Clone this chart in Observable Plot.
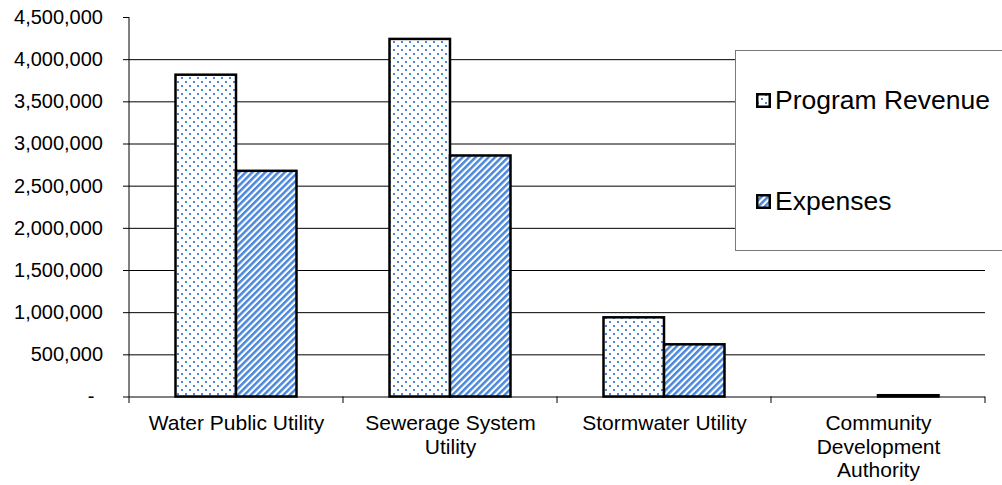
<!DOCTYPE html>
<html>
<head>
<meta charset="utf-8">
<script src="https://cdn.jsdelivr.net/npm/d3@7"></script>
<script src="https://cdn.jsdelivr.net/npm/@observablehq/plot@0.6"></script>
<style>
  html, body { margin: 0; padding: 0; background: #fff; overflow: hidden; }
  #chart { position: relative; width: 1002px; height: 485px; font-family: "Liberation Sans", Arial, sans-serif; }
  #legend {
    position: absolute; left: 735px; top: 50px; width: 290px; height: 201px;
    border: 1px solid #7a7a7a; background: #fff; box-sizing: border-box;
  }
  .item { position: absolute; left: 20px; height: 30px; display: flex; align-items: center; font-size: 26.5px; white-space: nowrap; color: #000; }
  .item svg { flex: none; margin-right: 4px; }
</style>
</head>
<body>
<div id="chart"><div id="legend"></div></div>
<script>
// Business-type activities: program revenue vs. expenses
const categories = [
  "Water Public Utility",
  "Sewerage System Utility",
  "Stormwater Utility",
  "Community Development Authority"
];
const tickLabels = [
  "Water Public Utility",
  "Sewerage System\nUtility",
  "Stormwater Utility",
  "Community\nDevelopment\nAuthority"
];
const series = ["Program Revenue", "Expenses"];
const programRevenue = [3816000, 4240000, 939000, 0];
const expenses = [2676000, 2858000, 619000, 15000];
const yTicks = [0, 500000, 1000000, 1500000, 2000000, 2500000, 3000000, 3500000, 4000000, 4500000];
const gridTicks = [500000, 1000000, 1500000, 2000000, 2500000, 3000000, 3500000, 4000000];

const blue = "#4a86da";
const patternIds = {"Program Revenue": "dots", "Expenses": "stripes"};

const rows = (values) => categories
  .map((category, i) => ({category, value: values[i]}))
  .filter(d => d.value > 0);

// axis line on the left and category boundary ticks under the baseline
function axisFrame(index, scales) {
  const x = scales.x, y = scales.y;
  const step = x(categories[1]) - x(categories[0]);
  const bounds = categories.map(c => x(c)).concat([x(categories[categories.length - 1]) + step]);
  const g = d3.create("svg:g").attr("stroke", "#000").attr("fill", "none");
  g.append("line")
    .attr("x1", bounds[0]).attr("x2", bounds[0])
    .attr("y1", y(yTicks[yTicks.length - 1])).attr("y2", y(0));
  g.selectAll(null).data(bounds).join("line")
    .attr("x1", d => d).attr("x2", d => d)
    .attr("y1", y(0)).attr("y2", y(0) + 6.5);
  return g.node();
}

const svg = Plot.plot({
  width: 1002,
  height: 485,
  marginLeft: 129,
  marginRight: 17,
  marginTop: 17,
  marginBottom: 88.5,
  style: {fontFamily: "'Liberation Sans', Arial, sans-serif", fontSize: "20px", color: "#000", background: "#fff", overflow: "visible"},
  x: {domain: categories, padding: 0, axis: null, label: null},
  y: {domain: [0, 4500000], axis: null, label: null},
  marks: [
    Plot.gridY(gridTicks, {stroke: "#000", strokeOpacity: 1}),
    Plot.ruleY([0], {stroke: "#000"}),
    Plot.barY(rows(programRevenue), {
      x: "category", y: "value", fill: "url(#dots)", stroke: "#000", strokeWidth: 2.5,
      insetLeft: 46.5, insetRight: 107
    }),
    Plot.barY(rows(expenses), {
      x: "category", y: "value", fill: "url(#stripes)", stroke: "#000", strokeWidth: 2.5,
      insetLeft: 107, insetRight: 46.5
    }),
    Plot.axisY(yTicks, {
      tickSize: 6, tickPadding: 20.5, fontSize: 20, label: null,
      tickFormat: d => d === 0 ? "" : d3.format(",")(d)
    }),
    Plot.text([0], {y: d => d, frameAnchor: "left", textAnchor: "end", dx: -35, text: () => "-", fontSize: 20}),
    Plot.axisX({
      tickSize: 0, tickPadding: 17, fontSize: 21, lineHeight: 1.1, label: null,
      tickFormat: d => tickLabels[categories.indexOf(d)]
    }),
    axisFrame
  ]
});

// fill patterns for the two series
const defs = d3.select(svg).insert("defs", ":first-child");
const dots = defs.append("pattern").attr("id", "dots")
  .attr("patternUnits", "userSpaceOnUse").attr("width", 8).attr("height", 8);
dots.append("rect").attr("width", 8).attr("height", 8).attr("fill", "#fff");
dots.append("rect").attr("x", 1).attr("y", 1).attr("width", 2).attr("height", 2).attr("fill", blue);
dots.append("rect").attr("x", 5).attr("y", 5).attr("width", 2).attr("height", 2).attr("fill", blue);
const stripes = defs.append("pattern").attr("id", "stripes")
  .attr("patternUnits", "userSpaceOnUse").attr("width", 4.6).attr("height", 4.6)
  .attr("patternTransform", "rotate(45)");
stripes.append("rect").attr("width", 4.6).attr("height", 4.6).attr("fill", "#fff");
stripes.append("rect").attr("width", 2.5).attr("height", 4.6).attr("fill", blue);

document.getElementById("chart").prepend(svg);
svg.style.position = "absolute";
svg.style.left = "0";
svg.style.top = "0";

// legend
const legend = d3.select("#legend");
series.forEach((name, i) => {
  const item = legend.append("div").attr("class", "item").style("top", (i === 0 ? 34.5 : 135.5) + "px");
  const sw = item.append("svg").attr("width", 15).attr("height", 15);
  sw.append("rect").attr("x", 1.25).attr("y", 1.25).attr("width", 12.5).attr("height", 12.5)
    .attr("fill", `url(#${patternIds[name]})`).attr("stroke", "#000").attr("stroke-width", 2.5);
  item.append("span").text(name);
});
</script>
</body>
</html>
